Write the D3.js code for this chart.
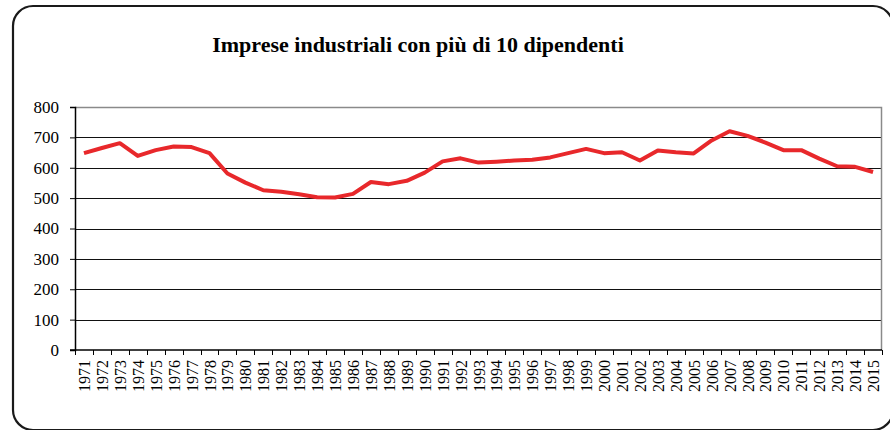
<!DOCTYPE html>
<html>
<head>
<meta charset="utf-8">
<script src="https://cdn.jsdelivr.net/npm/d3@7"></script>
<style>
  body { margin: 0; background: #fff; }
  svg { display: block; }
</style>
</head>
<body>
<svg width="890" height="430" font-family="Liberation Serif"></svg>
<script>
const years = d3.range(1971, 2016).map(String);
const imprese = [
  648, 665, 681, 639, 658, 670, 668, 648, 581, 551,
  526, 521, 513, 503, 502, 514, 553, 546, 557, 584,
  621, 631, 617, 620, 624, 626, 634, 648, 662, 648,
  651, 624, 657, 651, 647, 690, 720, 705, 683, 658,
  658, 630, 605, 603, 586
];
const yTicks = [0, 100, 200, 300, 400, 500, 600, 700, 800];
const title = "Imprese industriali con più di 10 dipendenti";

const serif = "Liberation Serif";

const svg = d3.select("svg"),
    width = +svg.attr("width"),
    height = +svg.attr("height");

const margin = {top: 107, right: 8, bottom: 80, left: 75};
const plotW = width - margin.left - margin.right;
const plotH = height - margin.top - margin.bottom;

// outer frame
svg.append("rect")
  .attr("x", 13).attr("y", 6)
  .attr("width", 880).attr("height", 424)
  .attr("rx", 20)
  .attr("fill", "none")
  .attr("stroke", "#1a1a1a")
  .attr("stroke-width", 2.2);

svg.append("text")
  .attr("x", 418).attr("y", 52)
  .attr("text-anchor", "middle")
  .attr("font-family", serif)
  .attr("font-size", 22)
  .attr("font-weight", "bold")
  .attr("fill", "#000")
  .text(title);

const g = svg.append("g")
  .attr("transform", `translate(${margin.left},${margin.top})`);

const x = d3.scaleBand().domain(years).range([0, plotW]);
const y = d3.scaleLinear().domain([0, 800]).range([plotH, 0]);

// gridlines
g.append("g")
  .selectAll("line")
  .data(yTicks.filter(d => d > 0 && d < 800))
  .enter().append("line")
  .attr("x1", 0).attr("x2", plotW)
  .attr("y1", d => Math.round(y(d)) + 0.5)
  .attr("y2", d => Math.round(y(d)) + 0.5)
  .attr("stroke", "#111");

// plot border (top & right)
g.append("path")
  .attr("d", `M0,0.5H${plotW - 0.5}V${plotH}`)
  .attr("fill", "none")
  .attr("stroke", "#8a8a8a")
  .attr("stroke-width", 1.5);

// y axis
const yAxis = g.append("g")
  .call(d3.axisLeft(y).tickValues(yTicks).tickSize(5).tickPadding(11).tickFormat(d3.format("d")))
  .attr("font-family", null)
  .attr("font-size", null);
yAxis.select(".domain").attr("stroke", "#000").attr("stroke-width", 1.5);
yAxis.selectAll(".tick line").attr("stroke", "#000");
yAxis.selectAll("text")
  .attr("font-family", serif)
  .attr("font-size", 17)
  .style("font-family", serif)
  .style("font-size", "17px")
  .attr("fill", "#000");

// x axis: ticks at category boundaries
const xAxis = g.append("g")
  .attr("transform", `translate(0,${plotH})`);
xAxis.append("line")
  .attr("x1", -5).attr("x2", plotW)
  .attr("stroke", "#000").attr("stroke-width", 1.5);
xAxis.selectAll(".bt")
  .data(years.concat(["end"]))
  .enter().append("line")
  .attr("class", "bt")
  .attr("x1", (d, i) => Math.round(i * x.step()) + 0.5)
  .attr("x2", (d, i) => Math.round(i * x.step()) + 0.5)
  .attr("y1", 0).attr("y2", 5)
  .attr("stroke", "#000");
xAxis.selectAll(".lbl")
  .data(years)
  .enter().append("text")
  .attr("class", "lbl")
  .attr("transform", d => `translate(${x(d) + x.bandwidth() / 2 + 6},10) rotate(-90)`)
  .attr("text-anchor", "end")
  .attr("font-family", serif)
  .attr("font-size", 16)
  .style("font-family", serif)
  .style("font-size", "16px")
  .attr("fill", "#000")
  .text(d => d);

// series
const line = d3.line()
  .x((d, i) => x(years[i]) + x.bandwidth() / 2)
  .y(d => y(d));

g.append("path")
  .datum(imprese)
  .attr("d", line)
  .attr("fill", "none")
  .attr("stroke", "#e8282b")
  .attr("stroke-width", 4)
  .attr("stroke-linejoin", "round");
</script>
</body>
</html>
